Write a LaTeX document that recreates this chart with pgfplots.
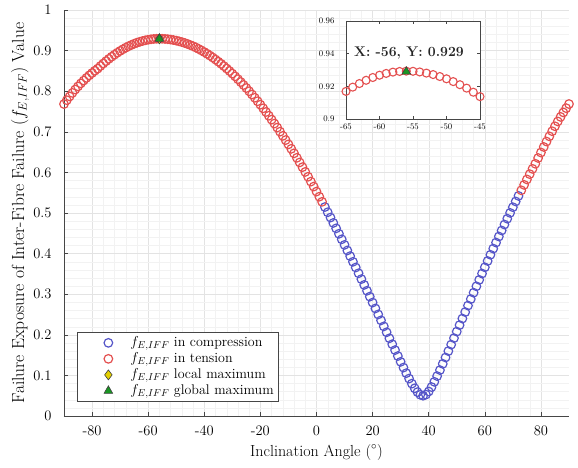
\documentclass[border=0pt]{standalone}
\usepackage{fontspec}
\usepackage{pgfplots}
\pgfplotsset{compat=1.18}
\usepackage{pgfplotstable}
\definecolor{cblue}{RGB}{85,85,200}
\definecolor{cred}{RGB}{228,80,80}
\definecolor{cgreen}{RGB}{25,150,35}
\definecolor{cyellow}{RGB}{228,208,0}
\definecolor{axgray}{RGB}{70,70,70}

\pgfplotstableread{
x y
-90 0.7684
-89 0.7779
-88 0.7871
-87 0.7958
-86 0.8041
-85 0.8119
-84 0.8193
-83 0.8262
-82 0.8328
-81 0.8390
-80 0.8448
-79 0.8504
-78 0.8556
-77 0.8621
-76 0.8682
-75 0.8741
-74 0.8797
-73 0.8850
-72 0.8900
-71 0.8948
-70 0.8992
-69 0.9033
-68 0.9072
-67 0.9107
-66 0.9139
-65 0.9169
-64 0.9195
-63 0.9217
-62 0.9237
-61 0.9254
-60 0.9268
-59 0.9279
-58 0.9287
-57 0.9291
-56 0.9293
-55 0.9292
-54 0.9288
-53 0.9281
-52 0.9272
-51 0.9260
-50 0.9246
-49 0.9229
-48 0.9210
-47 0.9189
-46 0.9164
-45 0.9137
-44 0.9108
-43 0.9076
-42 0.9041
-41 0.9004
-40 0.8964
-39 0.8922
-38 0.8877
-37 0.8830
-36 0.8780
-35 0.8728
-34 0.8674
-33 0.8618
-32 0.8558
-31 0.8497
-30 0.8433
-29 0.8366
-28 0.8297
-27 0.8226
-26 0.8153
-25 0.8078
-24 0.8000
-23 0.7920
-22 0.7838
-21 0.7753
-20 0.7667
-19 0.7579
-18 0.7488
-17 0.7395
-16 0.7300
-15 0.7203
-14 0.7104
-13 0.7003
-12 0.6900
-11 0.6796
-10 0.6690
-9 0.6581
-8 0.6470
-7 0.6359
-6 0.6245
-5 0.6129
-4 0.6012
-3 0.5893
-2 0.5773
-1 0.5651
0 0.5528
1 0.5402
2 0.5276
73 0.5559
74 0.5693
75 0.5827
76 0.5957
77 0.6087
78 0.6213
79 0.6355
80 0.6490
81 0.6627
82 0.6760
83 0.6888
84 0.7014
85 0.7136
86 0.7255
87 0.7367
88 0.7477
89 0.7582
90 0.7684
}\tension

\pgfplotstableread{
x y
3 0.5147
4 0.5018
5 0.4888
6 0.4755
7 0.4622
8 0.4488
9 0.4352
10 0.4215
11 0.4077
12 0.3938
13 0.3798
14 0.3658
15 0.3516
16 0.3372
17 0.3229
18 0.3085
19 0.2940
20 0.2794
21 0.2649
22 0.2502
23 0.2356
24 0.2208
25 0.2062
26 0.1914
27 0.1768
28 0.1623
29 0.1477
30 0.1334
31 0.1193
32 0.1055
33 0.0922
34 0.0797
35 0.0683
36 0.0588
37 0.0523
38 0.0500
39 0.0528
40 0.0604
41 0.0713
42 0.0842
43 0.0983
44 0.1131
45 0.1285
46 0.1441
47 0.1599
48 0.1758
49 0.1918
50 0.2079
51 0.2239
52 0.2400
53 0.2560
54 0.2720
55 0.2880
56 0.3037
57 0.3195
58 0.3353
59 0.3509
60 0.3663
61 0.3818
62 0.3971
63 0.4123
64 0.4272
65 0.4421
66 0.4569
67 0.4716
68 0.4860
69 0.5003
70 0.5143
71 0.5284
72 0.5421
}\compression

\begin{document}
\begin{tikzpicture}
\useasboundingbox (-64pt,-51pt) rectangle (514pt,416pt);
\begin{axis}[
  at={(0pt,0pt)}, anchor=south west,
  scale only axis, width=505pt, height=406pt,
  xmin=-90, xmax=90, ymin=0, ymax=1,
  axis x line*=bottom, axis y line*=left,
  tick align=inside,
  xtick={-80,-60,-40,-20,0,20,40,60,80},
  xticklabels={-80,-60,-40,-20,0,20,40,60,80},
  ytick={0,0.1,0.2,0.3,0.4,0.5,0.6,0.7,0.8,0.9,1},
  yticklabels={0,0.1,0.2,0.3,0.4,0.5,0.6,0.7,0.8,0.9,1},
  minor x tick num=4, minor y tick num=4,
  grid=both,
  major grid style={gray!22, line width=0.4pt},
  minor grid style={gray!10, line width=0.3pt},
  major tick length=4pt, minor tick length=0pt,
  tick style={axgray, line width=0.6pt},
  axis line style={axgray, line width=0.8pt},
  tick label style={font=\fontsize{14.5}{16}\selectfont},
  yticklabel style={xshift=-9pt},
  xticklabel style={yshift=-6pt},
  xlabel={Inclination Angle ($^\circ$)},
  ylabel={Failure Exposure of Inter-Fibre Failure ($f_{E,IFF}$) Value},
  xlabel style={font=\fontsize{16}{18}\selectfont, at={(axis description cs:0.5,-0.0887)}, anchor=center},
  ylabel style={font=\fontsize{17.5}{19}\selectfont, at={(axis description cs:-0.0871,0.5)}, anchor=center},
  clip=false,
  legend image code/.code={\path[draw=none,fill=none] (0pt,-4pt) rectangle (48pt,4pt); \draw[#1] plot coordinates {(27pt,0pt)};},
  legend style={at={(axis description cs:0.0257,0.0345)}, anchor=south west,
    draw=axgray, line width=0.8pt, fill=white,
    font=\fontsize{14}{16}\selectfont, row sep=0.5pt,
    inner xsep=4pt, inner ysep=3pt,
    nodes={inner sep=1pt, text height=10pt, text depth=3.5pt}},
  legend cell align=left,
]
\addplot[only marks, mark=o, mark size=4.3pt, cblue, line width=1.2pt] table {\compression};
\addlegendentry{$f_{E,IFF}$ in compression}
\addplot[only marks, mark=o, mark size=4.3pt, cred, line width=1.2pt] table {\tension};
\addlegendentry{$f_{E,IFF}$ in tension}
\addplot[only marks, mark=diamond*, mark size=5pt, draw=black!75, fill=cyellow, line width=0.6pt] coordinates {(-56,0.929)};
\addlegendentry{$f_{E,IFF}$ local maximum}
\addplot[only marks, mark=triangle*, mark size=5pt, draw=black!75, fill=cgreen, line width=0.6pt] coordinates {(-56,0.929)};
\addlegendentry{$f_{E,IFF}$ global maximum}
\end{axis}

\begin{axis}[
  at={(282pt,297pt)}, anchor=south west,
  scale only axis, width=134pt, height=98pt,
  xmin=-65, xmax=-45, ymin=0.9, ymax=0.96,
  xtick={-65,-60,-55,-50,-45},
  xticklabels={-65,-60,-55,-50,-45},
  ytick={0.9,0.92,0.94,0.96},
  yticklabels={0.9,0.92,0.94,0.96},
  tick align=inside, major tick length=3pt,
  tick style={axgray, line width=0.5pt},
  axis background/.style={fill=white},
  axis line style={axgray, line width=0.8pt},
  tick label style={font=\fontsize{8.5}{10}\selectfont},
  yticklabel style={xshift=-8pt},
  xticklabel style={yshift=-1pt},
]
\addplot[only marks, mark=o, mark size=4pt, cred, line width=1.1pt] table {\tension};
\addplot[only marks, mark=triangle*, mark size=5pt, draw=black!75, fill=cgreen, line width=0.6pt] coordinates {(-56,0.929)};
\node[font=\bfseries\fontsize{14}{15}\selectfont, text=black!85] at (axis cs:-55.6,0.9405) {X: -56, Y: 0.929};
\end{axis}
\end{tikzpicture}
\end{document}
